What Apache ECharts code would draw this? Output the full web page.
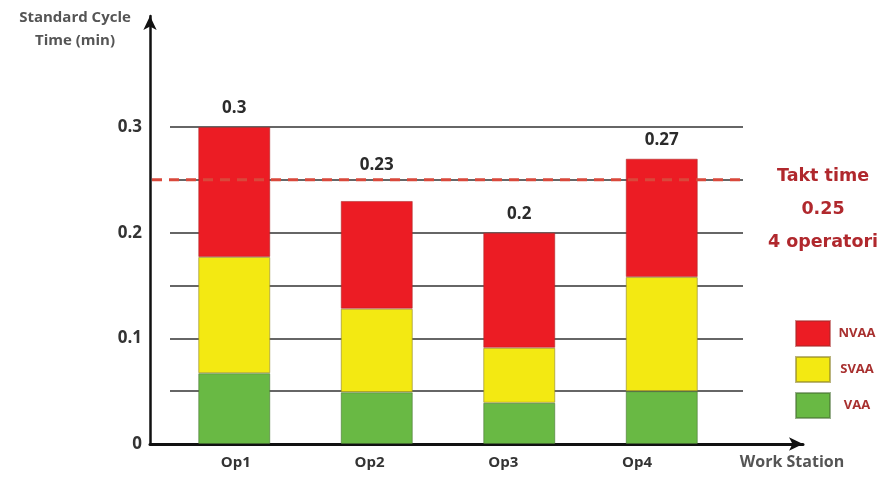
<!DOCTYPE html>
<html>
<head>
<meta charset="utf-8">
<title>Standard Cycle Time per Work Station</title>
<script src="https://cdn.jsdelivr.net/npm/echarts@6/dist/echarts.min.js"></script>
<style>
  html, body { margin: 0; padding: 0; background: #fff; }
  #chart { width: 886px; height: 477px; }
</style>
</head>
<body>
<div id="chart"></div>
<script>
// Work stations and time split per station (minutes)
const STATIONS = ['Op1', 'Op2', 'Op3', 'Op4'];
const TOTALS = [0.3, 0.23, 0.2, 0.27];       // total standard cycle time
const VAA = [0.067, 0.049, 0.039, 0.05];     // value-adding activities
const SVAA = [0.11, 0.079, 0.052, 0.108];    // semi value-adding activities
// non value-adding part is what remains of each total
const NVAA = TOTALS.map((t, i) => +(t - VAA[i] - SVAA[i]).toFixed(3));

const TAKT_TIME = 0.25;
const OPERATORS = 4;
const Y_LABELS = [0, 0.1, 0.2, 0.3];
const Y_MAX = 0.3;
const Y_STEP = 0.05;

const COLORS = { NVAA: '#ec1c24', SVAA: '#f3e912', VAA: '#69b944' };
const FONT = '"Open Sans", "DejaVu Sans", sans-serif';

// shared vertical layout so every grid uses the same value scale
const HEIGHT = 477;
const BOTTOM = 33;
const TOP = 127;
const PLOT_H = HEIGHT - BOTTOM - TOP;
const TAKT_Y = TOP + (1 - TAKT_TIME / Y_MAX) * PLOT_H;

const chart = echarts.init(document.getElementById('chart'), null, { renderer: 'canvas' });

const hiddenAxis = {
  show: true,
  axisLine: { show: false },
  axisTick: { show: false },
  axisLabel: { show: false },
  splitLine: { show: false }
};

chart.setOption({
  backgroundColor: '#ffffff',
  animation: false,
  title: {
    text: 'Takt time\n' + TAKT_TIME + '\n' + OPERATORS + ' operatori',
    left: 818,
    top: 155,
    textAlign: 'center',
    textStyle: {
      fontFamily: '"DejaVu Sans", sans-serif',
      fontWeight: 'bold',
      fontSize: 17.5,
      lineHeight: 33,
      color: '#b0282d'
    }
  },
  legend: {
    data: ['NVAA', 'SVAA', 'VAA'],
    orient: 'vertical',
    left: 790,
    top: 315,
    itemWidth: 34,
    itemHeight: 25,
    itemGap: 9,
    icon: 'rect',
    selectedMode: false,
    formatter: name => '{c|' + name + '}',
    textStyle: {
      rich: {
        c: {
          fontFamily: FONT,
          fontWeight: 'bold',
          fontSize: 13,
          color: '#a8302f',
          width: 44,
          align: 'center'
        }
      }
    }
  },
  grid: [
    // 0: axis frame with arrows
    { left: 150, right: 83, top: 16, bottom: BOTTOM },
    // 1: horizontal grid lines and value labels
    { left: 170, right: 143, top: TOP, bottom: BOTTOM },
    // 2: stacked bars
    { left: 163, right: 153, top: TOP, bottom: BOTTOM },
    // 3: takt time line
    { left: 152, right: 140, top: TOP, bottom: BOTTOM },
    // 4: station names
    { left: 169, right: 182, top: TOP, bottom: BOTTOM }
  ],
  xAxis: [
    {
      gridIndex: 0, type: 'value', min: 0, max: 1,
      name: 'Work Station',
      nameLocation: 'end',
      nameGap: -11,
      nameTextStyle: {
        fontFamily: FONT, fontWeight: 'bold', fontSize: 16, color: '#555',
        align: 'center', verticalAlign: 'top', padding: [10, 0, 0, 0]
      },
      axisLine: { show: true, symbol: ['none', 'arrow'], symbolSize: [10, 14], lineStyle: { color: '#111', width: 3 } },
      axisTick: { show: false }, axisLabel: { show: false }, splitLine: { show: false }
    },
    { gridIndex: 1, type: 'value', min: 0, max: 1, ...hiddenAxis },
    { gridIndex: 2, type: 'category', data: STATIONS, ...hiddenAxis },
    { gridIndex: 3, type: 'category', data: ['', ''], boundaryGap: false, ...hiddenAxis },
    {
      gridIndex: 4, type: 'category', data: STATIONS,
      axisLine: { show: false }, axisTick: { show: false }, splitLine: { show: false },
      axisLabel: { margin: 11, fontFamily: FONT, fontWeight: 'bold', fontSize: 15, color: '#333' }
    }
  ],
  yAxis: [
    {
      gridIndex: 0, type: 'value', min: 0, max: 1,
      name: 'Standard Cycle\nTime (min)',
      nameLocation: 'end',
      nameGap: 10,
      nameTextStyle: {
        fontFamily: FONT, fontWeight: 'bold', fontSize: 15, lineHeight: 23, color: '#555',
        align: 'center', verticalAlign: 'top', padding: [0, 150, 0, 0]
      },
      axisLine: { show: true, symbol: ['none', 'arrow'], symbolSize: [10, 14], lineStyle: { color: '#111', width: 2.5 } },
      axisTick: { show: false }, axisLabel: { show: false }, splitLine: { show: false }
    },
    {
      gridIndex: 1, type: 'value', min: 0, max: Y_MAX, interval: Y_STEP,
      axisLine: { show: false }, axisTick: { show: false },
      axisLabel: {
        margin: 28, fontFamily: FONT, fontWeight: 'bold', fontSize: 17, color: '#333',
        formatter: v => (Y_LABELS.includes(+v.toFixed(2)) ? String(+v.toFixed(2)) : '')
      },
      splitLine: { show: true, lineStyle: { color: '#666', width: 1.8 } }
    },
    { gridIndex: 2, type: 'value', min: 0, max: Y_MAX, ...hiddenAxis },
    { gridIndex: 3, type: 'value', min: 0, max: Y_MAX, ...hiddenAxis },
    { gridIndex: 4, type: 'value', min: 0, max: Y_MAX, ...hiddenAxis }
  ],
  series: [
    {
      name: 'VAA', type: 'bar', stack: 'time', xAxisIndex: 2, yAxisIndex: 2,
      barWidth: 72, data: VAA, z: 3,
      itemStyle: { color: COLORS.VAA, borderColor: 'rgba(70,110,50,0.55)', borderWidth: 1 }
    },
    {
      name: 'SVAA', type: 'bar', stack: 'time', xAxisIndex: 2, yAxisIndex: 2,
      barWidth: 72, data: SVAA, z: 3,
      itemStyle: { color: COLORS.SVAA, borderColor: 'rgba(140,130,40,0.6)', borderWidth: 1 }
    },
    {
      name: 'NVAA', type: 'bar', stack: 'time', xAxisIndex: 2, yAxisIndex: 2,
      barWidth: 72, data: NVAA, z: 3,
      itemStyle: { color: COLORS.NVAA, borderColor: 'rgba(170,40,40,0.55)', borderWidth: 1 },
      label: {
        show: true, position: 'top', distance: 10,
        fontFamily: FONT, fontWeight: 'bold', fontSize: 17, color: '#2b2b2b',
        formatter: p => String(TOTALS[p.dataIndex])
      },
      // keep total labels clear of the takt time line
      labelLayout: p => {
        const r = p.labelRect;
        if (r.y < TAKT_Y + 4 && r.y + r.height > TAKT_Y - 4) {
          return { dy: (TAKT_Y - 6) - (r.y + r.height) };
        }
        return {};
      }
    },
    {
      name: 'Takt time', type: 'line', xAxisIndex: 3, yAxisIndex: 3,
      data: [TAKT_TIME, TAKT_TIME], symbol: 'none', z: 5, silent: true,
      lineStyle: { color: '#d9483b', width: 3, type: [10, 7] }
    }
  ]
});
</script>
</body>
</html>
